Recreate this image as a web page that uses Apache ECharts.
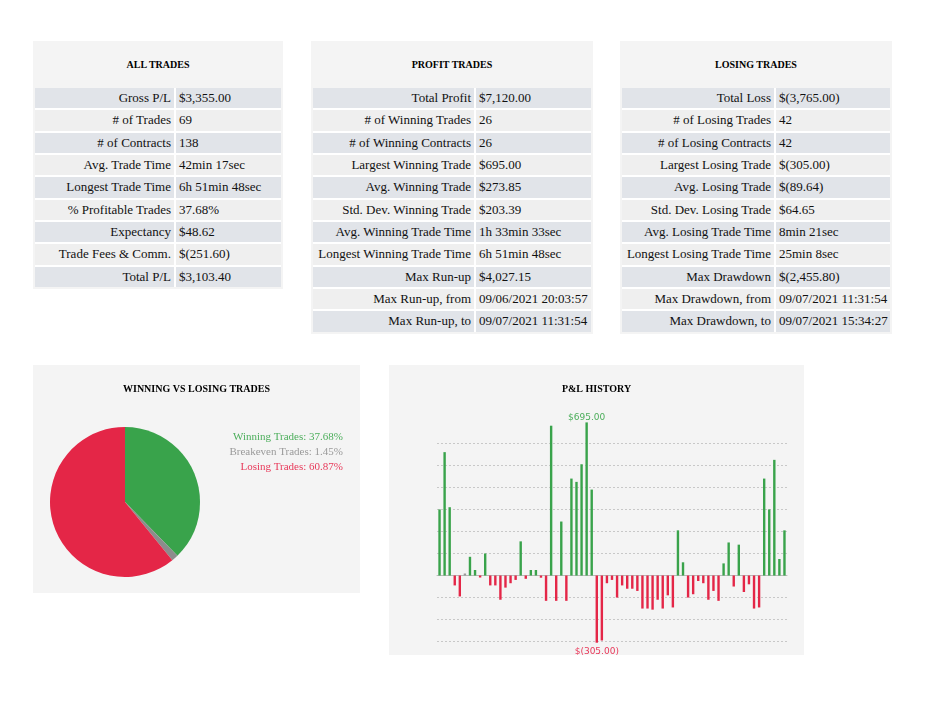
<!DOCTYPE html>
<html>
<head>
<meta charset="utf-8">
<script src="https://cdn.jsdelivr.net/npm/echarts@6/dist/echarts.min.js"></script>
<style>
    body { margin: 0; background: #fff; width: 936px; height: 702px; position: relative; overflow: hidden; }
    .panel { position: absolute; background: #f4f4f4; }
    .panel .head { font: bold 10px "Liberation Serif", "Times New Roman", serif; height: 47px; line-height: 47px; text-align: center; color: #000; }
    .panel .body { margin: 0 2px 2px 2px; background: #fff; display: grid; column-gap: 2px; row-gap: 2px; }
    .panel .cell { font: 13px "Liberation Serif", "Times New Roman", serif; height: 20.33px; line-height: 20.33px; color: #111; white-space: nowrap; box-sizing: border-box; }
    .panel .lab { text-align: right; padding-right: 3px; }
    .panel .val { text-align: left; padding-left: 3px; }
    .panel .dark { background: #e1e4e9; }
    .panel .light { background: #efefef; }
    .chart { position: absolute; background: #f4f4f4; }
</style>
</head>
<body>
<div class="panel" id="allTrades" style="left:33px;top:41px;width:250px;"></div>
<div class="panel" id="profitTrades" style="left:311px;top:41px;width:282px;"></div>
<div class="panel" id="losingTrades" style="left:620px;top:41px;width:272px;"></div>
<div class="chart" id="pieChart" style="left:33px;top:365px;width:327px;height:228px;"></div>
<div class="chart" id="barChart" style="left:389px;top:365px;width:415px;height:290px;"></div>
<script>
// stats tables
var allTradesRows = [
    ['Gross P/L', '$3,355.00'],
    ['# of Trades', '69'],
    ['# of Contracts', '138'],
    ['Avg. Trade Time', '42min 17sec'],
    ['Longest Trade Time', '6h 51min 48sec'],
    ['% Profitable Trades', '37.68%'],
    ['Expectancy', '$48.62'],
    ['Trade Fees & Comm.', '$(251.60)'],
    ['Total P/L', '$3,103.40']
];
var profitTradesRows = [
    ['Total Profit', '$7,120.00'],
    ['# of Winning Trades', '26'],
    ['# of Winning Contracts', '26'],
    ['Largest Winning Trade', '$695.00'],
    ['Avg. Winning Trade', '$273.85'],
    ['Std. Dev. Winning Trade', '$203.39'],
    ['Avg. Winning Trade Time', '1h 33min 33sec'],
    ['Longest Winning Trade Time', '6h 51min 48sec'],
    ['Max Run-up', '$4,027.15'],
    ['Max Run-up, from', '09/06/2021 20:03:57'],
    ['Max Run-up, to', '09/07/2021 11:31:54']
];
var losingTradesRows = [
    ['Total Loss', '$(3,765.00)'],
    ['# of Losing Trades', '42'],
    ['# of Losing Contracts', '42'],
    ['Largest Losing Trade', '$(305.00)'],
    ['Avg. Losing Trade', '$(89.64)'],
    ['Std. Dev. Losing Trade', '$64.65'],
    ['Avg. Losing Trade Time', '8min 21sec'],
    ['Longest Losing Trade Time', '25min 8sec'],
    ['Max Drawdown', '$(2,455.80)'],
    ['Max Drawdown, from', '09/07/2021 11:31:54'],
    ['Max Drawdown, to', '09/07/2021 15:34:27']
];

// pie
var pieNames = ['Winning Trades', 'Breakeven Trades', 'Losing Trades'];
var piePercents = [37.68, 1.45, 60.87];
var pieColors = ['#39a34b', '#8c8c8c', '#e42647'];
var pieTextColors = ['#4cae5b', '#9a9a9a', '#e8395a'];

// P&L per trade, in trade order
var pnlValues = [
    300, 560, 310, -45, -95, 0, 85, 25, -5, 100,
    -45, -45, -110, -55, -35, -20, 155, -15, 25, 25,
    -10, -115, 680, -115, 245, -115, 440, 425, 505, 695,
    390, -305, -295, -35, -20, -100, -45, -60, -60, -70,
    -150, -150, -155, -110, -150, -90, -145, 205, 60, -100,
    -85, -25, -35, -110, -70, -115, 55, 150, -50, 140,
    -75, -40, -150, -145, 440, 300, 525, 75, 205
];
var tradeLabels = pnlValues.map(function (v, i) { return String(i + 1); });

function buildTable(id, title, rows, labW, valW) {
    var panel = document.getElementById(id);
    var head = document.createElement('div');
    head.className = 'head';
    head.textContent = title;
    panel.appendChild(head);
    var body = document.createElement('div');
    body.className = 'body';
    body.style.gridTemplateColumns = labW + 'px ' + valW + 'px';
    rows.forEach(function (r, i) {
        var shade = i % 2 === 0 ? 'dark' : 'light';
        var a = document.createElement('div');
        a.className = 'cell lab ' + shade;
        a.textContent = r[0];
        var b = document.createElement('div');
        b.className = 'cell val ' + shade;
        b.textContent = r[1];
        body.appendChild(a);
        body.appendChild(b);
    });
    panel.appendChild(body);
}

buildTable('allTrades', 'ALL TRADES', allTradesRows, 139, 105);
buildTable('profitTrades', 'PROFIT TRADES', profitTradesRows, 161, 115);
buildTable('losingTrades', 'LOSING TRADES', losingTradesRows, 152, 114);

var titleStyle = { fontFamily: '"Liberation Serif", "Times New Roman", serif', fontSize: 10, fontWeight: 'bold', color: '#000' };

var pieChart = echarts.init(document.getElementById('pieChart'), null, { renderer: 'canvas' });
pieChart.setOption({
    animation: false,
    title: { text: 'WINNING VS LOSING TRADES', left: 'center', top: 14, textStyle: titleStyle },
    legend: {
        orient: 'vertical',
        right: 7,
        top: 60,
        align: 'right',
        icon: 'none',
        itemWidth: 0,
        itemHeight: 1,
        itemGap: 0,
        selectedMode: false,
        formatter: function (name) {
            return name + ': ' + piePercents[pieNames.indexOf(name)].toFixed(2) + '%';
        },
        textStyle: { fontFamily: '"Liberation Serif", "Times New Roman", serif', fontSize: 11, lineHeight: 15 },
        data: pieNames.map(function (n, i) {
            return { name: n, textStyle: { color: pieTextColors[i] } };
        })
    },
    series: [{
        type: 'pie',
        center: [92, 137],
        radius: 75,
        startAngle: 90,
        clockwise: true,
        silent: true,
        label: { show: false },
        labelLine: { show: false },
        data: pieNames.map(function (n, i) {
            return { name: n, value: piePercents[i], itemStyle: { color: pieColors[i] } };
        })
    }]
});

var maxVal = Math.max.apply(null, pnlValues);
var minVal = Math.min.apply(null, pnlValues);
var fmtMoney = function (v) {
    var s = '$' + Math.abs(v).toFixed(2);
    return v < 0 ? '$(' + Math.abs(v).toFixed(2) + ')' : s;
};

var barData = pnlValues.map(function (v) {
    var item = { value: v };
    if (v === maxVal) {
        item.label = { show: true, position: 'top', distance: 0, color: '#4cae5b', formatter: fmtMoney(v) };
    } else if (v === minVal) {
        item.label = { show: true, position: 'bottom', distance: 4.5, color: '#e8395a', formatter: fmtMoney(v) };
    }
    return item;
});

var barChart = echarts.init(document.getElementById('barChart'), null, { renderer: 'canvas' });
barChart.setOption({
    animation: false,
    title: { text: 'P&L HISTORY', left: 'center', top: 14, textStyle: titleStyle },
    grid: { left: 48, right: 17, top: 57.4, bottom: 12.3 },
    xAxis: {
        type: 'category',
        data: tradeLabels,
        axisLine: { show: true, onZero: true, lineStyle: { color: '#b9b9b9', width: 1 } },
        axisTick: { show: false },
        axisLabel: { show: false },
        splitLine: { show: false }
    },
    yAxis: {
        type: 'value',
        min: minVal,
        max: maxVal,
        splitNumber: 10,
        axisLine: { show: false },
        axisTick: { show: false },
        axisLabel: { show: false },
        splitLine: {
            show: true,
            showMinLine: false,
            showMaxLine: false,
            lineStyle: { color: '#c8c8c8', type: [2, 2], width: 1 }
        }
    },
    series: [{
        type: 'bar',
        data: barData,
        barWidth: 2.4,
        barMinHeight: 2,
        silent: true,
        itemStyle: {
            color: function (p) {
                if (p.value > 0) return '#39a34b';
                if (p.value < 0) return '#e42647';
                return '#9a9a9a';
            }
        },
        label: { fontFamily: '"DejaVu Sans", Verdana, sans-serif', fontSize: 9 }
    }]
});
</script>
</body>
</html>
